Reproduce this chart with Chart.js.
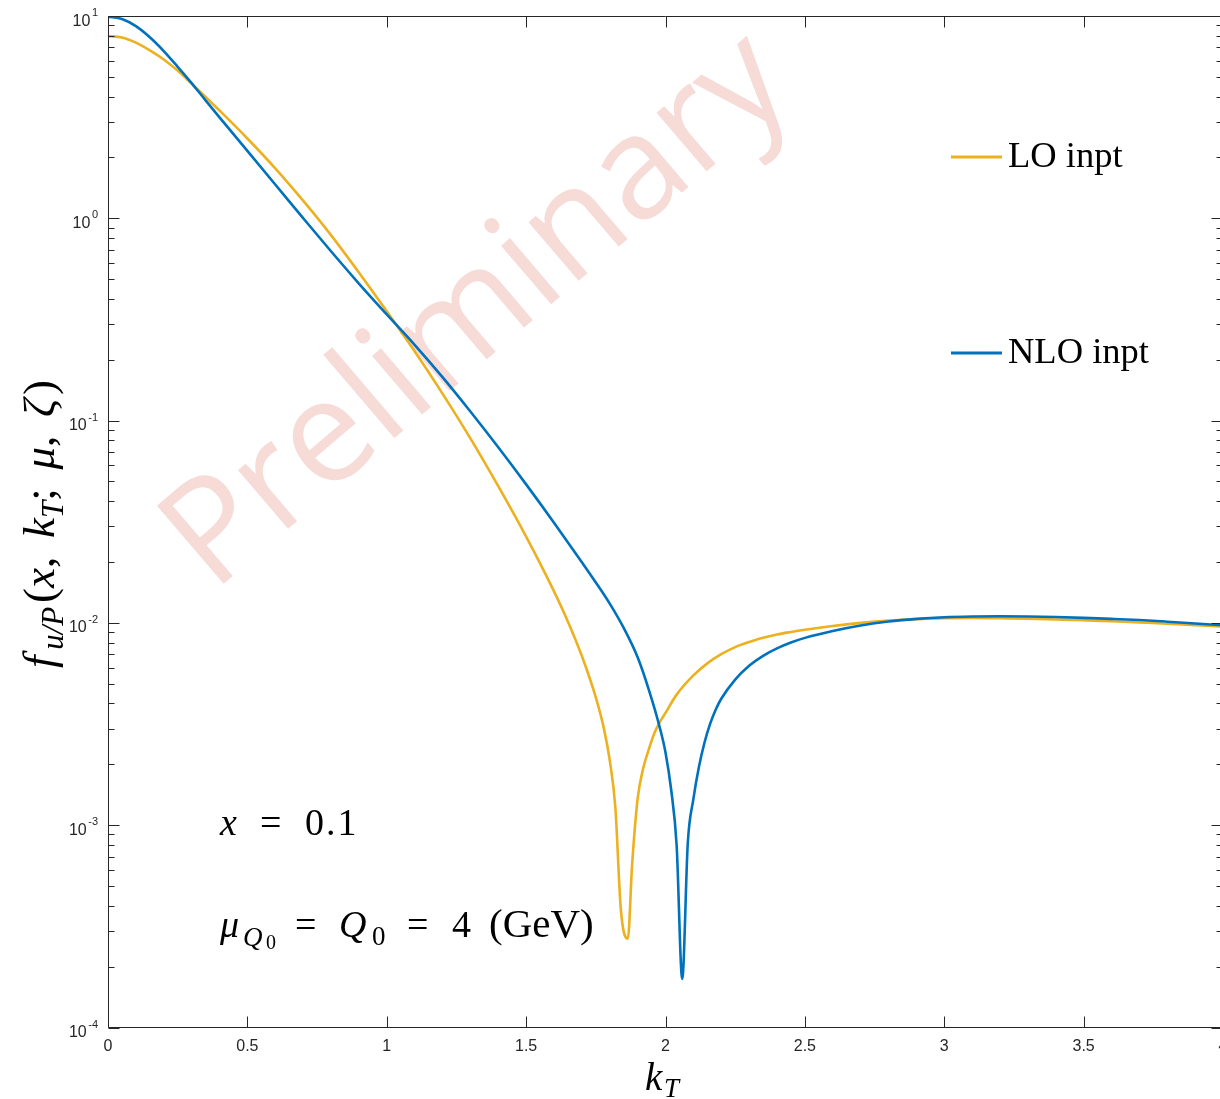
<!DOCTYPE html>
<html><head><meta charset="utf-8">
<script src="https://cdn.jsdelivr.net/npm/chart.js@4.4.1/dist/chart.umd.min.js"></script>
<style>
html,body{margin:0;padding:0;background:#fff;overflow:hidden;width:1220px;height:1099px}
#wrap{position:absolute;left:0;top:0;width:1240px;height:1099px}
</style></head>
<body><div id="wrap"><canvas id="c" width="1240" height="1099"></canvas></div>
<script>
// ---- data ----
const kT_LO = [0,0.05,0.1,0.15,0.2,0.25,0.3,0.35,0.4,0.5,0.6,0.7,0.8,0.9,1.0,1.1,1.2,1.3,1.4,1.5,1.6,1.65,1.7,1.75,1.78,1.8,1.82,1.84,1.865,1.88,1.9,1.92,1.94,1.96,1.98,2.0,2.04,2.1,2.15,2.2,2.25,2.3,2.35,2.4,2.45,2.5,2.6,2.7,2.8,2.9,3.0,3.1,3.2,3.3,3.4,3.5,3.6,3.7,3.8,3.9,4.0];
const f_LO  = [7.96,7.83,7.38,6.76,6.10,5.37,4.63,3.98,3.41,2.48,1.766,1.222,0.826,0.540,0.347,0.220,0.136,0.0817,0.0474,0.0267,0.01432,0.01014,0.00686,0.00428,0.00296,0.00209,0.00123,0.00038,0.000275,0.000631,0.00135,0.00191,0.00237,0.00285,0.00324,0.00359,0.00442,0.00550,0.00631,0.00700,0.00759,0.00804,0.00845,0.00877,0.00902,0.00925,0.00966,0.01000,0.01026,0.01042,0.01054,0.01057,0.01054,0.01050,0.01040,0.01030,0.01019,0.01005,0.00991,0.00975,0.00959];
const kT_NLO = [0,0.05,0.1,0.15,0.2,0.25,0.3,0.35,0.4,0.5,0.6,0.7,0.8,0.9,1.0,1.1,1.2,1.3,1.4,1.5,1.6,1.7,1.75,1.8,1.85,1.9,1.94,1.98,2.0,2.02,2.04,2.06,2.08,2.1,2.12,2.14,2.16,2.18,2.2,2.25,2.3,2.35,2.4,2.45,2.5,2.6,2.7,2.8,2.9,3.0,3.1,3.2,3.3,3.4,3.5,3.6,3.7,3.8,3.9,4.0];
const f_NLO  = [9.93,9.66,8.91,7.85,6.71,5.61,4.66,3.83,3.155,2.153,1.469,1.002,0.687,0.476,0.335,0.237,0.164,0.1109,0.0738,0.0484,0.0313,0.01995,0.01585,0.01245,0.00944,0.00676,0.00468,0.00302,0.00229,0.00151,0.000794,0.000174,0.000818,0.001346,0.001945,0.002564,0.00317,0.003724,0.004217,0.005248,0.006138,0.006871,0.007482,0.007998,0.008433,0.00912,0.009705,0.010162,0.010471,0.01067,0.01076,0.01079,0.01076,0.01069,0.01059,0.01047,0.01033,0.01014,0.00993,0.00973];
const xTickValues = [0,0.5,1,1.5,2,2.5,3,3.5,4];
const xTickLabels = ['0','0.5','1','1.5','2','2.5','3','3.5','4'];
const yTickExponents = [-4,-3,-2,-1,0,1];
const seriesLabels = ['LO inpt','NLO inpt'];
const seriesColors = ['#EDB120','#0072BD'];

const AX = '#262626';
const SERIF = '"Liberation Serif","Times New Roman",serif';
const SANS = '"Liberation Sans",Arial,Helvetica,sans-serif';

function pieceFont(st, F, S){
  if (st === 'i') return 'italic ' + F + 'px ' + SERIF;
  if (st === 'r') return F + 'px ' + SERIF;
  if (st === 'si') return 'italic ' + S + 'px ' + SERIF;
  return S + 'px ' + SERIF;
}
function drawSeq(ctx, pieces, x, y, F, S, subDy, target){
  let natural = 0, gw = 0;
  for (const p of pieces){
    if (p[1] === 'gap'){ gw += p[2]; continue; }
    ctx.font = pieceFont(p[1], F, S);
    natural += ctx.measureText(p[0]).width;
  }
  const unit = gw > 0 ? Math.max(0, (target - natural) / gw) : 0;
  for (const p of pieces){
    if (p[1] === 'gap'){ x += p[2] * unit; continue; }
    ctx.font = pieceFont(p[1], F, S);
    const dy = (p[1] === 'si' || p[1] === 'sr') ? subDy : 0;
    ctx.fillText(p[0], x, y + dy);
    x += ctx.measureText(p[0]).width;
  }
}
function spaced(ctx, text, x, y, sp){
  ctx.save();
  if ('letterSpacing' in ctx) ctx.letterSpacing = sp + 'px';
  ctx.fillText(text, x, y);
  ctx.restore();
}

const overlay = {
  id: 'overlay',
  beforeDatasetsDraw(chart){
    const ctx = chart.ctx;
    ctx.save();
    ctx.translate(477, 311);
    ctx.rotate(-40.5 * Math.PI / 180);
    ctx.font = '500 144px "Open Sans","Noto Sans",sans-serif';
    ctx.fillStyle = 'rgba(232,160,150,0.38)';
    ctx.textAlign = 'center';
    ctx.textBaseline = 'alphabetic';
    ctx.fillText('Preliminary', 0, 43);
    ctx.restore();
  },
  afterDatasetsDraw(chart){
    const ctx = chart.ctx;
    const xs = chart.scales.x, ys = chart.scales.y;
    const {left, right, top, bottom} = chart.chartArea;
    const L = Math.round(left) + 0.5, R = Math.round(right) - 0.5;
    const T = Math.round(top) + 0.5, B = Math.round(bottom) - 0.5;
    ctx.save();
    ctx.strokeStyle = AX; ctx.lineWidth = 1;
    ctx.beginPath();
    ctx.moveTo(L, T); ctx.lineTo(R, T); ctx.lineTo(R, B); ctx.lineTo(L, B); ctx.closePath();
    for (const v of xTickValues){
      const px = Math.round(xs.getPixelForValue(v)) + 0.5;
      ctx.moveTo(px, B); ctx.lineTo(px, B - 11);
      ctx.moveTo(px, T); ctx.lineTo(px, T + 11);
    }
    const eMax = yTickExponents[yTickExponents.length - 1];
    for (const e of yTickExponents){
      for (let m = 1; m <= 9; m++){
        if (e === eMax && m > 1) break;
        const py = Math.round(ys.getPixelForValue(m * Math.pow(10, e))) + 0.5;
        const len = m === 1 ? 11 : 6;
        ctx.moveTo(L, py); ctx.lineTo(L + len, py);
        ctx.moveTo(R, py); ctx.lineTo(R - len, py);
      }
    }
    ctx.stroke();

    // tick labels
    ctx.fillStyle = AX;
    ctx.textBaseline = 'alphabetic';
    ctx.font = '16px ' + SANS;
    ctx.textAlign = 'center';
    xTickValues.forEach((v, i) => ctx.fillText(xTickLabels[i], xs.getPixelForValue(v), 1051));
    ctx.textAlign = 'right';
    for (const e of yTickExponents){
      const py = ys.getPixelForValue(Math.pow(10, e));
      ctx.font = '11px ' + SANS;
      const ex = String(e);
      const ew = ctx.measureText(ex).width;
      ctx.fillText(ex, 98, py);
      ctx.font = '16px ' + SANS;
      ctx.fillText('10', 98 - ew - 1.5, py + 9.5);
    }

    // legend
    ctx.textAlign = 'left';
    const legY = [157, 353];
    chart.data.datasets.forEach((ds, i) => {
      ctx.strokeStyle = ds.borderColor; ctx.lineWidth = 3;
      ctx.beginPath(); ctx.moveTo(951, legY[i]); ctx.lineTo(1002, legY[i]); ctx.stroke();
      ctx.fillStyle = '#000';
      ctx.font = '36.5px ' + SERIF;
      ctx.fillText(ds.label, 1008, legY[i] + 10);
    });

    ctx.fillStyle = '#000';
    const F = 38;
    // x = 0.1
    ctx.font = 'italic ' + F + 'px ' + SERIF; ctx.fillText('x', 220, 835);
    ctx.font = F + 'px ' + SERIF; ctx.fillText('=', 260, 835);
    spaced(ctx, '0.1', 305, 835, 2);
    // mu_{Q0} = Q0 = 4 (GeV)
    ctx.font = 'italic ' + F + 'px ' + SERIF; ctx.fillText('\u03BC', 220, 937);
    ctx.font = 'italic 27px ' + SERIF; ctx.fillText('Q', 243, 946);
    ctx.font = '20px ' + SERIF; ctx.fillText('0', 266, 949);
    ctx.font = F + 'px ' + SERIF; ctx.fillText('=', 295, 937);
    ctx.font = 'italic ' + F + 'px ' + SERIF; ctx.fillText('Q', 339, 937);
    ctx.font = '27px ' + SERIF; ctx.fillText('0', 372, 945);
    ctx.font = F + 'px ' + SERIF; ctx.fillText('=', 407, 937);
    ctx.fillText('4', 452, 937);
    ctx.font = '41px ' + SERIF;
    ctx.fillText('(GeV)', 489, 937);

    // x axis title k_T
    ctx.font = 'italic 39px ' + SERIF; ctx.fillText('k', 645, 1090);
    ctx.font = 'italic 27px ' + SERIF; ctx.fillText('T', 664, 1097);

    // y axis title f_{u/P}(x, k_T; mu, zeta)
    ctx.save();
    ctx.translate(54, 668);
    ctx.rotate(-Math.PI / 2);
    drawSeq(ctx, [
      ['f','i'],['', 'gap', 0.6],['u/P','si'],['', 'gap', 0.4],['(','r'],['x','i'],[',','r'],['', 'gap', 2],
      ['k','i'],['T','si'],[';','r'],['', 'gap', 2],['\u03BC','i'],[',','r'],['', 'gap', 2],
      ['\u03B6','i'],['', 'gap', 0.4],[')','r']
    ], 0, 0, 45, 31, 9, 288);
    ctx.restore();
    ctx.restore();
  }
};

const mk = (xs, ys) => xs.map((x, i) => ({x, y: ys[i]}));
new Chart(document.getElementById('c'), {
  type: 'line',
  data: { datasets: [
    { label: seriesLabels[0], data: mk(kT_LO, f_LO), borderColor: seriesColors[0], borderWidth: 2.6,
      pointRadius: 0, fill: false, cubicInterpolationMode: 'monotone', order: 1 },
    { label: seriesLabels[1], data: mk(kT_NLO, f_NLO), borderColor: seriesColors[1], borderWidth: 2.6,
      pointRadius: 0, fill: false, cubicInterpolationMode: 'monotone', order: 0 }
  ]},
  options: {
    responsive: false, animation: false, devicePixelRatio: 1,
    layout: { padding: { left: 108, top: 16, right: 17, bottom: 71.5 } },
    scales: {
      x: { type: 'linear', min: 0, max: 4, display: false },
      y: { type: 'logarithmic', min: 1e-4, max: 10, display: false }
    },
    plugins: { legend: { display: false }, tooltip: { enabled: false } }
  },
  plugins: [overlay]
});
</script>
</body></html>
